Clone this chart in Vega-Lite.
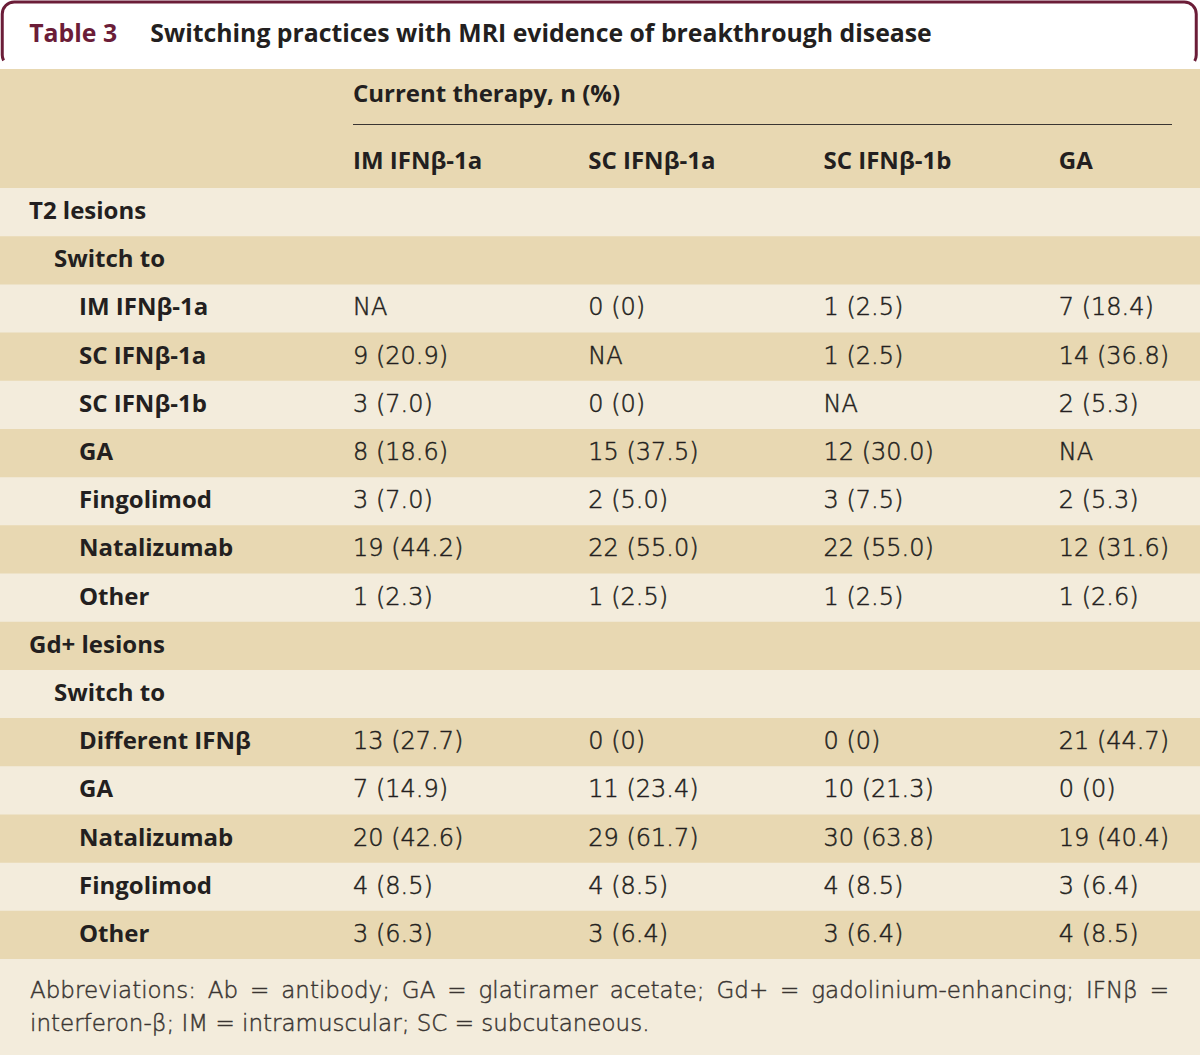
{
  "$schema": "https://vega.github.io/schema/vega-lite/v6.json",
  "padding": 0,
  "spacing": 0,
  "center": true,
  "background": "#ffffff",
  "config": {"view": {"stroke": null}, "concat": {"spacing": 0}},
  "datasets": {
    "title": [
      {"part": "num", "text": "Table 3"},
      {"part": "title", "text": "Switching practices with MRI evidence of breakthrough disease"}
    ],
    "header": [
      {"line": "a", "col": "IM IFNβ-1a", "text": "Current therapy, n (%)"},
      {"line": "c", "col": "IM IFNβ-1a", "text": "IM IFNβ-1a"},
      {"line": "c", "col": "SC IFNβ-1a", "text": "SC IFNβ-1a"},
      {"line": "c", "col": "SC IFNβ-1b", "text": "SC IFNβ-1b"},
      {"line": "c", "col": "GA", "text": "GA"}
    ],
    "rows": [
      {"i": 0, "label": "T2 lesions", "level": 1},
      {"i": 1, "label": "Switch to", "level": 2},
      {"i": 2, "label": "IM IFNβ-1a", "level": 3, "IM IFNβ-1a": "NA", "SC IFNβ-1a": "0 (0)", "SC IFNβ-1b": "1 (2.5)", "GA": "7 (18.4)"},
      {"i": 3, "label": "SC IFNβ-1a", "level": 3, "IM IFNβ-1a": "9 (20.9)", "SC IFNβ-1a": "NA", "SC IFNβ-1b": "1 (2.5)", "GA": "14 (36.8)"},
      {"i": 4, "label": "SC IFNβ-1b", "level": 3, "IM IFNβ-1a": "3 (7.0)", "SC IFNβ-1a": "0 (0)", "SC IFNβ-1b": "NA", "GA": "2 (5.3)"},
      {"i": 5, "label": "GA", "level": 3, "IM IFNβ-1a": "8 (18.6)", "SC IFNβ-1a": "15 (37.5)", "SC IFNβ-1b": "12 (30.0)", "GA": "NA"},
      {"i": 6, "label": "Fingolimod", "level": 3, "IM IFNβ-1a": "3 (7.0)", "SC IFNβ-1a": "2 (5.0)", "SC IFNβ-1b": "3 (7.5)", "GA": "2 (5.3)"},
      {"i": 7, "label": "Natalizumab", "level": 3, "IM IFNβ-1a": "19 (44.2)", "SC IFNβ-1a": "22 (55.0)", "SC IFNβ-1b": "22 (55.0)", "GA": "12 (31.6)"},
      {"i": 8, "label": "Other", "level": 3, "IM IFNβ-1a": "1 (2.3)", "SC IFNβ-1a": "1 (2.5)", "SC IFNβ-1b": "1 (2.5)", "GA": "1 (2.6)"},
      {"i": 9, "label": "Gd+ lesions", "level": 1},
      {"i": 10, "label": "Switch to", "level": 2},
      {"i": 11, "label": "Different IFNβ", "level": 3, "IM IFNβ-1a": "13 (27.7)", "SC IFNβ-1a": "0 (0)", "SC IFNβ-1b": "0 (0)", "GA": "21 (44.7)"},
      {"i": 12, "label": "GA", "level": 3, "IM IFNβ-1a": "7 (14.9)", "SC IFNβ-1a": "11 (23.4)", "SC IFNβ-1b": "10 (21.3)", "GA": "0 (0)"},
      {"i": 13, "label": "Natalizumab", "level": 3, "IM IFNβ-1a": "20 (42.6)", "SC IFNβ-1a": "29 (61.7)", "SC IFNβ-1b": "30 (63.8)", "GA": "19 (40.4)"},
      {"i": 14, "label": "Fingolimod", "level": 3, "IM IFNβ-1a": "4 (8.5)", "SC IFNβ-1a": "4 (8.5)", "SC IFNβ-1b": "4 (8.5)", "GA": "3 (6.4)"},
      {"i": 15, "label": "Other", "level": 3, "IM IFNβ-1a": "3 (6.3)", "SC IFNβ-1a": "3 (6.4)", "SC IFNβ-1b": "3 (6.4)", "GA": "4 (8.5)"}
    ],
    "foot": [
      {"line": 1, "text": "Abbreviations:\u2009 Ab\u2009 =\u2009 antibody;\u2009 GA\u2009 =\u2009 glatiramer\u2009 acetate;\u2009 Gd+\u2009 =\u2009 gadolinium-enhancing;\u2009 IFNβ\u2009 ="},
      {"line": 2, "text": "interferon-β; IM = intramuscular; SC = subcutaneous."}
    ]
  },
  "vconcat": [
    {
      "width": 1194,
      "height": 65,
      "view": {"fill": "#ffffff", "stroke": "#6b1d38", "strokeWidth": 3, "cornerRadius": 12, "strokeDash": [1235.85, 1195.7]},
      "data": {"name": "title"},
      "mark": {"type": "text", "align": "left", "baseline": "middle", "font": "Open Sans", "fontWeight": "bold", "fontSize": 24.8},
      "encoding": {
        "x": {"field": "part", "type": "nominal", "scale": {"type": "point", "domain": ["num", "title"], "range": [27, 148], "padding": 0}, "axis": null},
        "text": {"field": "text"},
        "color": {"field": "part", "type": "nominal", "scale": {"domain": ["num", "title"], "range": ["#6b1d38", "#231f20"]}, "legend": null}
      }
    },
    {
      "width": 1200,
      "height": 119,
      "view": {"fill": "#e8d8b2", "stroke": null},
      "data": {"name": "header"},
      "layer": [
        {
          "mark": {"type": "rule", "color": "#3a3532", "strokeWidth": 1.2, "yOffset": -4},
          "encoding": {
            "x": {"datum": "IM IFNβ-1a", "type": "nominal", "bandPosition": 0, "scale": {"type": "band", "domain": ["IM IFNβ-1a", "SC IFNβ-1a", "SC IFNβ-1b", "GA"], "range": [353, 1294], "paddingInner": 0, "paddingOuter": 0}, "axis": null},
            "x2": {"datum": "GA", "bandPosition": 0.48},
            "y": {"datum": "b", "type": "nominal", "scale": {"type": "point", "domain": ["a", "b", "c"], "padding": 0.8}, "axis": null}
          }
        },
        {
          "mark": {"type": "text", "align": "left", "baseline": "middle", "font": "Open Sans", "fontWeight": "bold", "fontSize": 24, "color": "#231f20"},
          "encoding": {
            "x": {"field": "col", "type": "nominal", "bandPosition": 0, "scale": {"type": "band", "domain": ["IM IFNβ-1a", "SC IFNβ-1a", "SC IFNβ-1b", "GA"], "range": [353, 1294], "paddingInner": 0, "paddingOuter": 0}, "axis": null},
            "y": {"field": "line", "type": "nominal", "scale": {"type": "point", "domain": ["a", "b", "c"], "padding": 0.8}, "axis": null},
            "text": {"field": "text"}
          }
        }
      ]
    },
    {
      "width": 1200,
      "height": 771,
      "view": {"fill": "#f3ecdc", "stroke": null},
      "data": {"name": "rows"},
      "layer": [
        {
          "transform": [{"filter": "datum.i % 2 == 1"}],
          "mark": {"type": "rect", "color": "#e8d8b2"},
          "encoding": {
            "y": {"field": "i", "type": "ordinal", "scale": {"type": "band", "domain": [0,1,2,3,4,5,6,7,8,9,10,11,12,13,14,15], "paddingInner": 0, "paddingOuter": 0}, "axis": null}
          }
        },
        {
          "mark": {"type": "text", "align": "left", "baseline": "middle", "font": "Open Sans", "fontWeight": "bold", "fontSize": 24, "color": "#231f20"},
          "encoding": {
            "x": {"field": "level", "type": "ordinal", "scale": {"type": "point", "domain": [1, 2, 3], "range": [29, 79], "padding": 0}, "axis": null},
            "y": {"field": "i", "type": "ordinal", "scale": {"type": "band", "domain": [0,1,2,3,4,5,6,7,8,9,10,11,12,13,14,15], "paddingInner": 0, "paddingOuter": 0}, "axis": null},
            "text": {"field": "label"}
          }
        },
        {
          "transform": [
            {"fold": ["IM IFNβ-1a", "SC IFNβ-1a", "SC IFNβ-1b", "GA"], "as": ["col", "value"]},
            {"filter": "isValid(datum.value)"}
          ],
          "mark": {"type": "text", "align": "left", "baseline": "middle", "font": "DejaVu Sans", "fontWeight": 200, "fontSize": 24, "color": "#231f20", "stroke": "#231f20", "strokeWidth": 0.5},
          "encoding": {
            "x": {"field": "col", "type": "nominal", "bandPosition": 0, "scale": {"type": "band", "domain": ["IM IFNβ-1a", "SC IFNβ-1a", "SC IFNβ-1b", "GA"], "range": [353, 1294], "paddingInner": 0, "paddingOuter": 0}, "axis": null},
            "y": {"field": "i", "type": "ordinal", "scale": {"type": "band", "domain": [0,1,2,3,4,5,6,7,8,9,10,11,12,13,14,15], "paddingInner": 0, "paddingOuter": 0}, "axis": null},
            "text": {"field": "value"}
          }
        }
      ],
      "resolve": {"scale": {"x": "independent"}}
    },
    {
      "width": 1200,
      "height": 97,
      "view": {"fill": "#f3ecdc", "stroke": null},
      "data": {"name": "foot"},
      "mark": {"type": "text", "align": "left", "baseline": "middle", "font": "DejaVu Sans", "fontWeight": 200, "fontSize": 23, "color": "#3a3532", "stroke": "#3a3532", "strokeWidth": 0.45},
      "encoding": {
        "x": {"datum": 1, "type": "ordinal", "scale": {"type": "point", "domain": [1], "range": [30, 30], "padding": 0}, "axis": null},
        "y": {"field": "line", "type": "ordinal", "scale": {"type": "point", "domain": [1, 2], "padding": 0.93}, "axis": null},
        "text": {"field": "text"}
      }
    }
  ]
}
